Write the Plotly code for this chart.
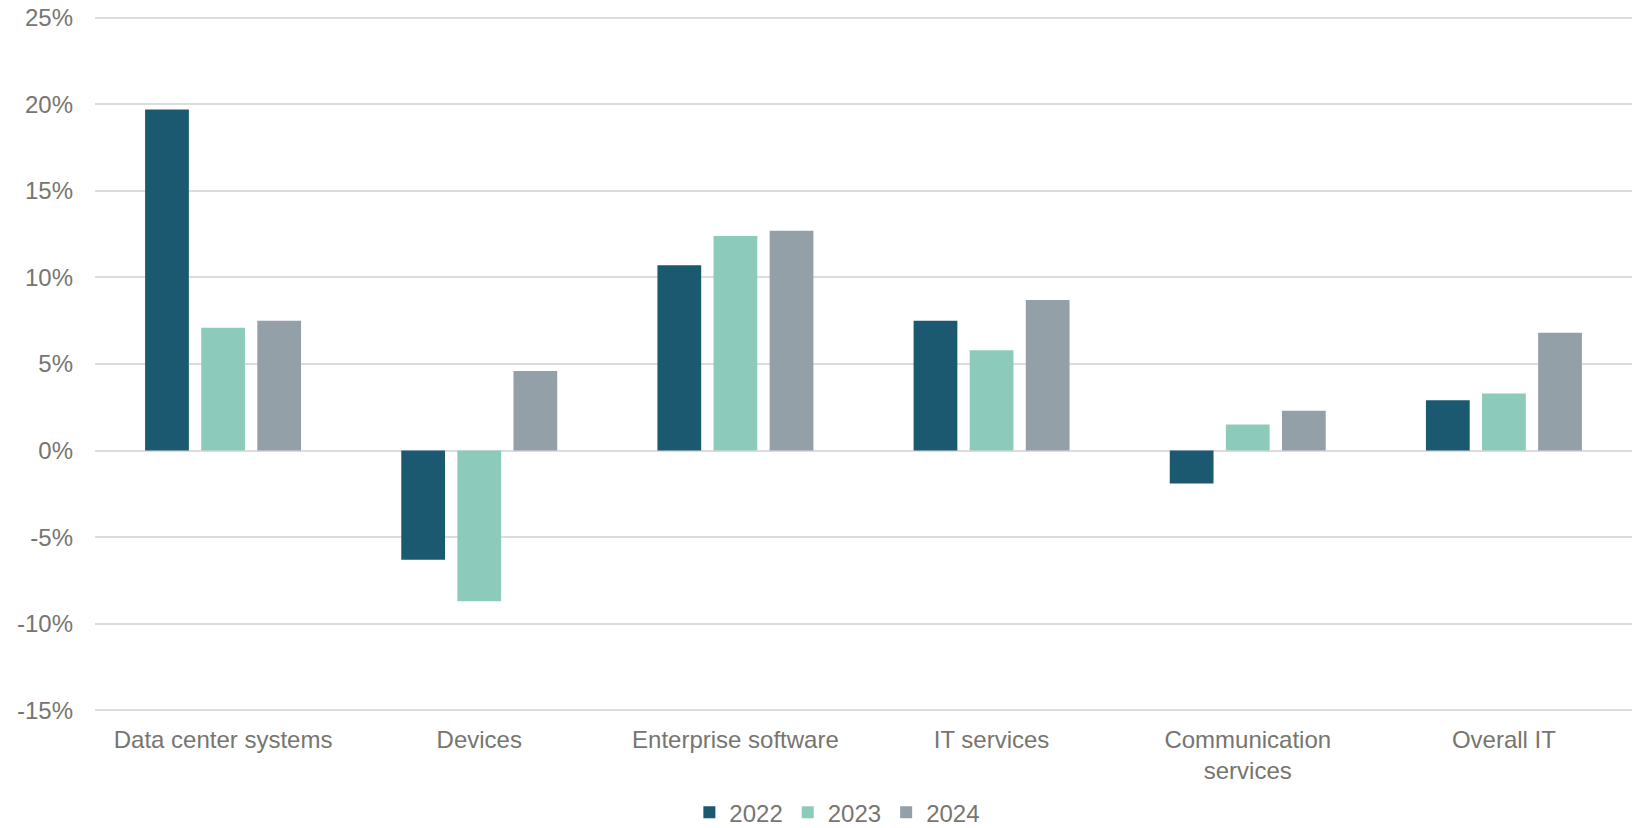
import plotly.graph_objects as go

categories = ["Data center systems", "Devices", "Enterprise software", "IT services",
              "Communication<br>services", "Overall IT"]
years = ["2022", "2023", "2024"]
values_2022 = [19.7, -6.3, 10.7, 7.5, -1.9, 2.9]
values_2023 = [7.1, -8.7, 12.4, 5.8, 1.5, 3.3]
values_2024 = [7.5, 4.6, 12.7, 8.7, 2.3, 6.8]
colors = ["#1a5970", "#8ccbbb", "#93a0a7"]
tick_vals = [-15, -10, -5, 0, 5, 10, 15, 20, 25]
tick_labels = ["-15%", "-10%", "-5%", "0%", "5%", "10%", "15%", "20%", "25%"]

FONT = "Liberation Sans, Arial, sans-serif"
TXT = "#767570"

fig = go.Figure()
for name, vals, col in zip(years, [values_2022, values_2023, values_2024], colors):
    fig.add_trace(go.Bar(
        x=categories, y=vals, name=name,
        marker=dict(color=col, line=dict(width=0)),
    ))

fig.update_layout(
    width=1637, height=828,
    barmode="group", bargap=0.343, bargroupgap=0.22,
    plot_bgcolor="white", paper_bgcolor="white",
    margin=dict(l=95, r=5, t=15.6, b=115.6, pad=0, autoexpand=False),
    font=dict(family=FONT, size=24, color=TXT),
    showlegend=True,
    legend=dict(orientation="h", x=0.483, xanchor="center", xref="paper",
                y=0.0185, yanchor="middle", yref="container",
                font=dict(family=FONT, size=24, color=TXT), traceorder="normal",
                itemwidth=30),
    xaxis=dict(showgrid=False, showline=False, ticks="", tickfont=dict(size=24, color=TXT),
               ticklabelstandoff=11, automargin=False),
    yaxis=dict(range=[-15.1, 25.1], tickvals=tick_vals, ticktext=tick_labels,
               showgrid=True, gridcolor="#dcdcdc", gridwidth=2,
               zeroline=True, zerolinecolor="#dcdcdc", zerolinewidth=2,
               showline=False, ticks="", tickfont=dict(size=24, color=TXT),
               ticklabelstandoff=21, automargin=False, ticklabeloverflow="allow"),
)

fig.write_html("out.html",
               config={"displayModeBar": False},
               post_script="document.body.style.margin='0';document.body.style.overflow='hidden';")
